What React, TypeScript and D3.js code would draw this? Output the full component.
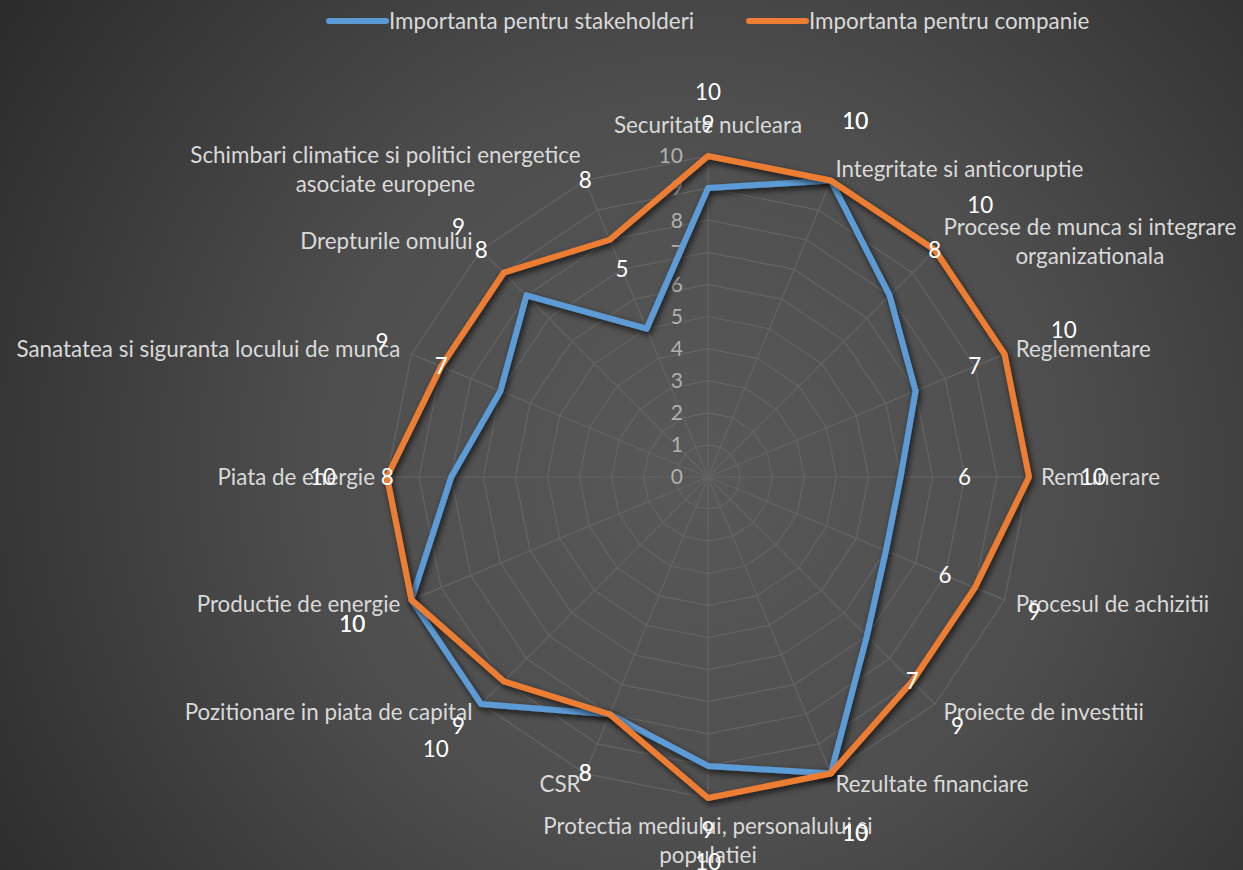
import React, { useEffect, useRef } from "react";
import * as d3 from "d3";

const categories: string[][] = [
  ["Securitate nucleara"],
  ["Integritate si anticoruptie"],
  ["Procese de munca si integrare", "organizationala"],
  ["Reglementare"],
  ["Remunerare"],
  ["Procesul de achizitii"],
  ["Proiecte de investitii"],
  ["Rezultate financiare"],
  ["Protectia mediului, personalului si", "populatiei"],
  ["CSR"],
  ["Pozitionare in piata de capital"],
  ["Productie de energie"],
  ["Piata de energie"],
  ["Sanatatea si siguranta locului de munca"],
  ["Drepturile omului"],
  ["Schimbari climatice si politici energetice", "asociate europene"],
];

const stakeholders = [9, 10, 8, 7, 6, 6, 7, 10, 9, 8, 10, 10, 8, 7, 8, 5];
const companie = [10, 10, 10, 10, 10, 9, 9, 10, 10, 8, 9, 10, 10, 9, 9, 8];
const ticks = [0, 1, 2, 3, 4, 5, 6, 7, 8, 9, 10];

const seriesNames = ["Importanta pentru stakeholderi", "Importanta pentru companie"];
const seriesColors = ["#5B9BD5", "#ED7D31"];

const W = 1243;
const H = 870;
const CX = 708;
const CY = 477;
const R = 321;
const FONT = "Lato, 'Open Sans', sans-serif";
const FS = 22.4;

export default function App() {
  const ref = useRef<SVGSVGElement>(null);

  useEffect(() => {
    const svg = d3.select(ref.current);
    svg.selectAll("*").remove();

    const defs = svg.append("defs");
    const grad = defs
      .append("radialGradient")
      .attr("id", "bg")
      .attr("gradientUnits", "userSpaceOnUse")
      .attr("cx", 690)
      .attr("cy", 470)
      .attr("r", 820);
    grad.append("stop").attr("offset", "0%").attr("stop-color", "#585858");
    grad.append("stop").attr("offset", "45%").attr("stop-color", "#4e4e4e");
    grad.append("stop").attr("offset", "100%").attr("stop-color", "#2c2c2c");

    const f = defs
      .append("filter")
      .attr("id", "shadow")
      .attr("x", "-10%")
      .attr("y", "-10%")
      .attr("width", "120%")
      .attr("height", "120%");
    f.append("feDropShadow")
      .attr("dx", 2)
      .attr("dy", 3)
      .attr("stdDeviation", 3)
      .attr("flood-color", "#000")
      .attr("flood-opacity", 0.75);

    svg.append("rect").attr("width", W).attr("height", H).attr("fill", "url(#bg)");

    const n = categories.length;
    const angle = d3
      .scaleLinear()
      .domain([0, n])
      .range([0, 2 * Math.PI]);
    const r = d3.scaleLinear().domain([0, 10]).range([0, R]);

    const pt = (i: number, rad: number): [number, number] => {
      const a = angle(i);
      return [CX + rad * Math.sin(a), CY - rad * Math.cos(a)];
    };

    const g = svg.append("g");

    // grid rings
    ticks.slice(1).forEach((t) => {
      const pts = d3.range(n).map((i) => pt(i, r(t)));
      g.append("path")
        .attr("d", d3.line().curve(d3.curveLinearClosed)(pts) as string)
        .attr("fill", "none")
        .attr("stroke", "#646464")
        .attr("stroke-width", 1.2);
    });
    // spokes
    d3.range(n).forEach((i) => {
      const [x, y] = pt(i, R);
      g.append("line")
        .attr("x1", CX)
        .attr("y1", CY)
        .attr("x2", x)
        .attr("y2", y)
        .attr("stroke", "#646464")
        .attr("stroke-width", 1.2);
    });

    // tick labels
    ticks.forEach((t) => {
      g.append("text")
        .attr("x", CX - 25)
        .attr("y", CY - r(t))
        .attr("dy", "0.35em")
        .attr("text-anchor", "end")
        .attr("font-family", FONT)
        .attr("font-size", 21)
        .attr("fill", "#b0b0b0")
        .text(String(t));
    });

    // series
    const allSeries = [stakeholders, companie];
    allSeries.forEach((vals, si) => {
      const pts = vals.map((v, i) => pt(i, r(v)));
      g.append("path")
        .attr("d", d3.line().curve(d3.curveLinearClosed)(pts) as string)
        .attr("fill", "none")
        .attr("stroke", seriesColors[si])
        .attr("stroke-width", 6)
        .attr("stroke-linejoin", "round")
        .attr("filter", "url(#shadow)");
    });

    // category labels
    const lineH = 29;
    categories.forEach((lines, i) => {
      const a = angle(i);
      const s = Math.sin(a);
      const c = Math.cos(a);
      const [px, py] = pt(i, R);
      const t = g
        .append("text")
        .attr("font-family", FONT)
        .attr("font-size", FS)
        .attr("fill", "#d9d9d9");
      const spans = lines.map((l) => t.append("tspan").text(l));
      const widths = spans.map((sp) => (sp.node() as SVGTSpanElement).getComputedTextLength());
      const bw = Math.max(...widths);
      const bh = lines.length * lineH;
      let cx: number;
      let cy: number;
      if (Math.abs(s) < 0.01) {
        cx = px;
        cy = c > 0 ? py - 18 - bh / 2 + 2 : py + 17 + bh / 2 - 3;
      } else {
        const edge = px + 12 * s;
        cx = s > 0 ? edge + bw / 2 : edge - bw / 2;
        cy = py - 12 * c;
      }
      spans.forEach((sp, k) => {
        sp.attr("x", cx)
          .attr("y", cy - bh / 2 + lineH * k + lineH / 2)
          .attr("dy", "0.35em")
          .attr("text-anchor", "middle");
      });
    });

    // data labels
    allSeries.forEach((vals) => {
      vals.forEach((v, i) => {
        const [x, y] = pt(i, r(v) + 64);
        g.append("text")
          .attr("x", x)
          .attr("y", y)
          .attr("dy", "0.35em")
          .attr("text-anchor", "middle")
          .attr("font-family", FONT)
          .attr("font-size", FS)
          .attr("fill", "#ffffff")
          .text(String(v));
      });
    });

    // legend
    const legendItems = [
      { x1: 329, x2: 386 },
      { x1: 749, x2: 806 },
    ];
    seriesNames.forEach((name, si) => {
      const lg = g.append("g");
      lg.append("line")
        .attr("x1", legendItems[si].x1)
        .attr("x2", legendItems[si].x2)
        .attr("y1", 21)
        .attr("y2", 21)
        .attr("stroke", seriesColors[si])
        .attr("stroke-width", 6)
        .attr("stroke-linecap", "round");
      lg.append("text")
        .attr("x", legendItems[si].x2 + 3)
        .attr("y", 21)
        .attr("dy", "0.35em")
        .attr("font-family", FONT)
        .attr("font-size", FS)
        .attr("fill", "#d9d9d9")
        .text(name);
    });
  }, []);

  return (
    <svg
      ref={ref}
      width={W}
      height={H}
      style={{ position: "absolute", left: 0, top: 0, display: "block" }}
    />
  );
}
